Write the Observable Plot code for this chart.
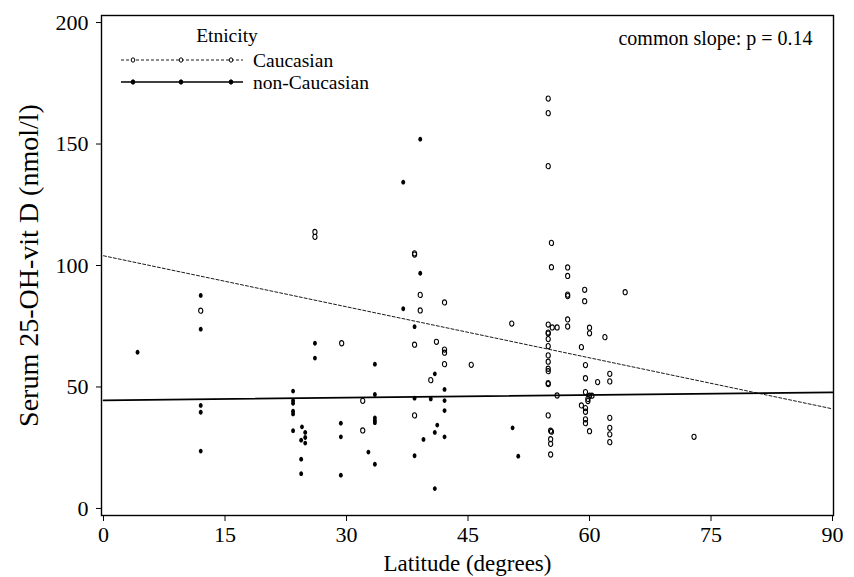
<!DOCTYPE html>
<html>
<head>
<meta charset="utf-8">
<script src="https://cdn.jsdelivr.net/npm/d3@7"></script>
<script src="https://cdn.jsdelivr.net/npm/@observablehq/plot@0.6"></script>
<style>
  html, body { margin: 0; padding: 0; background: white; }
  #chart { position: relative; width: 854px; height: 577px; }
</style>
</head>
<body>
<div id="chart"></div>
<script>
// Caucasian (hollow circles)
const caucLat = [12.0, 26.1, 26.1, 29.4, 32.0, 32.0, 38.4, 38.4, 38.4, 38.4, 39.1, 39.1, 40.4, 41.1, 42.1, 42.1, 42.1, 42.1, 45.4, 50.4,
  54.9, 54.9, 54.9, 54.9, 54.9, 54.9, 54.9, 54.9, 54.9, 54.9, 54.9, 54.9, 54.9, 54.9, 54.9,
  55.3, 55.3, 55.4, 56.0, 55.2, 55.3, 55.2, 55.2, 55.2, 56.0,
  57.3, 57.3, 57.3, 57.3, 57.3, 57.3,
  59.4, 59.4, 60.0, 60.0, 61.9, 59.0, 59.5, 59.5, 61.0, 59.5, 60.0, 60.3, 59.8, 59.8, 59.0, 59.5, 59.5, 59.5, 59.5, 60.0,
  62.5, 62.5, 62.5, 62.5, 62.5, 62.5, 64.4, 72.9];
const caucVit = [81.4, 113.8, 111.8, 68.0, 44.3, 32.1, 105.0, 104.5, 67.4, 38.3, 87.9, 81.5, 52.8, 68.6, 84.8, 65.4, 64.1, 59.4, 59.1, 76.1,
  168.7, 162.7, 140.9, 75.7, 72.4, 72.0, 69.7, 66.8, 63.0, 60.4, 57.5, 56.5, 51.6, 51.2, 38.3,
  109.3, 99.3, 74.5, 74.5, 32.0, 31.6, 28.5, 26.6, 22.2, 46.5,
  99.2, 95.7, 88.0, 87.4, 77.8, 74.9,
  90.0, 85.3, 74.4, 72.1, 70.5, 66.4, 59.0, 53.6, 52.0, 47.9, 46.4, 46.4, 45.1, 44.2, 42.4, 41.3, 39.8, 36.7, 35.1, 31.8,
  55.4, 52.3, 37.3, 33.2, 30.5, 27.3, 89.0, 29.5];

// non-Caucasian (filled)
const nonLat = [4.2, 12.0, 12.0, 12.0, 12.0, 12.0, 23.4, 23.4, 23.4, 23.4, 23.4, 23.4, 24.5, 24.4, 24.4, 24.4, 24.9, 24.9, 24.9,
  26.1, 26.1, 29.3, 29.3, 29.3, 32.7, 33.5, 33.5, 33.5, 33.5, 33.5, 33.5, 37.0, 37.0, 38.4, 38.4, 38.4, 39.1, 39.1, 39.5,
  40.4, 40.9, 40.9, 40.9, 41.2, 42.1, 42.1, 42.1, 42.1, 50.5, 51.2];
const nonVit = [64.3, 87.7, 73.8, 42.4, 39.6, 23.6, 48.3, 44.4, 43.3, 40.0, 38.9, 32.0, 33.6, 28.1, 20.3, 14.3, 31.3, 29.2, 26.9,
  68.0, 61.9, 35.1, 29.5, 13.7, 23.2, 59.4, 46.9, 37.3, 36.2, 35.3, 18.2, 134.3, 82.2, 74.8, 45.4, 21.7, 152.0, 96.8, 28.4,
  45.1, 55.4, 31.3, 8.2, 34.3, 49.0, 44.4, 40.3, 29.5, 33.2, 21.5];

// fitted lines
const caucFitLat = [0, 90];
const caucFitVit = [104, 41];
const nonFitLat = [0, 90];
const nonFitVit = [44.5, 47.8];

const xTicks = [0, 15, 30, 45, 60, 75, 90];
const yTicks = [0, 50, 100, 150, 200];
const xTitle = "Latitude (degrees)";
const yTitle = "Serum 25-OH-vit D (nmol/l)";
const legendTitle = "Etnicity";
const legendLabels = ["Caucasian", "non-Caucasian"];
const note = "common slope: p = 0.14";

const cauc = caucLat.map((x, i) => ({x, y: caucVit[i]}));
const non = nonLat.map((x, i) => ({x, y: nonVit[i]}));
const caucFit = caucFitLat.map((x, i) => ({x, y: caucFitVit[i]}));
const nonFit = nonFitLat.map((x, i) => ({x, y: nonFitVit[i]}));

const font = "'Liberation Serif', 'DejaVu Serif', serif";

// slightly tall marker (reference markers are narrower than tall)
const ellipse = {
  draw(context, size) {
    const r = Math.sqrt(size / Math.PI);
    const rx = r * 0.8, ry = r, k = 0.5523;
    context.moveTo(rx, 0);
    context.bezierCurveTo(rx, ry * k, rx * k, ry, 0, ry);
    context.bezierCurveTo(-rx * k, ry, -rx, ry * k, -rx, 0);
    context.bezierCurveTo(-rx, -ry * k, -rx * k, -ry, 0, -ry);
    context.bezierCurveTo(rx * k, -ry, rx, -ry * k, rx, 0);
    context.closePath();
  }
};

const chart = Plot.plot({
  width: 854,
  height: 577,
  marginLeft: 101,
  marginRight: 21,
  marginTop: 15,
  marginBottom: 62,
  style: {fontFamily: font, background: "white", color: "black"},
  x: {domain: [-0.25, 90.12], label: null},
  y: {domain: [-2.9, 202.9], label: null},
  marks: [
    Plot.axisX({ticks: xTicks, tickSize: 6, tickPadding: 5, fontSize: 22, label: null, stroke: "black"}),
    Plot.axisY({ticks: yTicks, tickSize: 5, tickPadding: 8, fontSize: 22, label: null, stroke: "black"}),
    Plot.line(caucFit, {x: "x", y: "y", stroke: "black", strokeWidth: 0.9, strokeDasharray: "3,2"}),
    Plot.line(nonFit, {x: "x", y: "y", stroke: "black", strokeWidth: 1.7}),
    Plot.dot(cauc, {x: "x", y: "y", r: 2.6, symbol: ellipse, stroke: "black", strokeWidth: 1.1, fill: "none"}),
    Plot.dot(non, {x: "x", y: "y", r: 2.4, symbol: ellipse, fill: "black", stroke: "none"}),
    Plot.frame({stroke: "black", strokeWidth: 1.4}),
    Plot.text([xTitle], {frameAnchor: "bottom", dy: 48, fontSize: 23, fill: "black", lineAnchor: "middle"}),
    Plot.text([yTitle], {frameAnchor: "left", dx: -72, rotate: -90, textAnchor: "middle", lineAnchor: "middle", fontSize: 28, fill: "black"}),
    Plot.text([note], {frameAnchor: "top-right", dx: -21, dy: 23, fontSize: 20, fill: "black", textAnchor: "end", lineAnchor: "middle"})
  ]
});

document.getElementById("chart").appendChild(chart);

// Legend inside the plot area
const svg = d3.select(chart);
const lg = svg.append("g").attr("font-family", font).attr("fill", "black");
lg.append("text").attr("x", 227).attr("y", 35).attr("text-anchor", "middle")
  .attr("dominant-baseline", "central").attr("font-size", 19.5).text(legendTitle);
const rows = [{y: 60, dash: "3,2", w: 0.9, filled: false}, {y: 82, dash: null, w: 1.4, filled: true}];
rows.forEach((r, i) => {
  lg.append("line").attr("x1", 121).attr("x2", 243).attr("y1", r.y).attr("y2", r.y)
    .attr("stroke", "black").attr("stroke-width", r.w).attr("stroke-dasharray", r.dash);
  [133, 181, 231].forEach(cx => {
    lg.append("ellipse").attr("cx", cx).attr("cy", r.y).attr("rx", 1.8).attr("ry", 2.2)
      .attr("fill", r.filled ? "black" : "white").attr("stroke", "black").attr("stroke-width", 1);
  });
  lg.append("text").attr("x", 253).attr("y", r.y).attr("text-anchor", "start").attr("dominant-baseline", "central")
    .attr("font-size", 19.5).text(legendLabels[i]);
});
</script>
</body>
</html>
